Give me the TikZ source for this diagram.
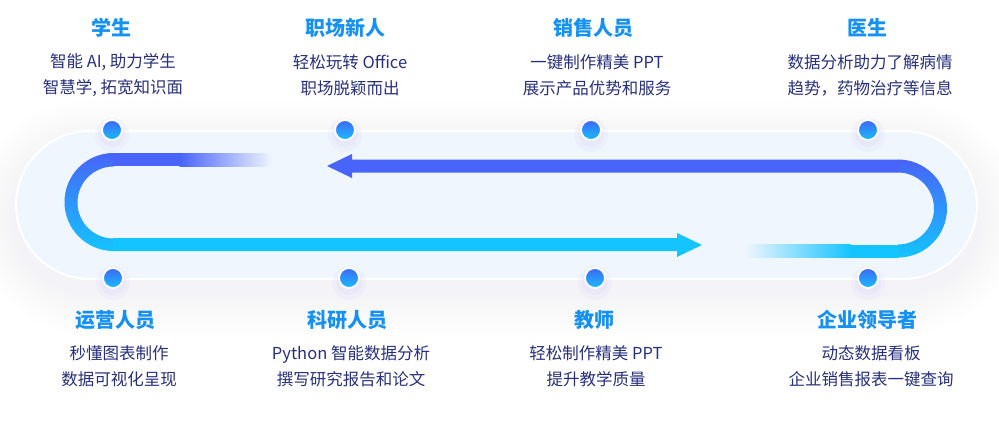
\documentclass[tikz,border=0pt]{standalone}
\usepackage{fontspec}
\setmainfont{Noto Sans CJK SC}
\definecolor{titleblue}{HTML}{1591F3}
\definecolor{navy}{HTML}{28307C}
\definecolor{arrblue}{HTML}{4864FA}
\definecolor{arrcyan}{HTML}{14C4FF}
\definecolor{pillbg}{HTML}{F0F6FE}
\definecolor{glow}{HTML}{DCD6F8}
\definecolor{dotTop}{HTML}{3F68F5}
\definecolor{dotBot}{HTML}{18BEFF}
\tikzset{
  ttl/.style={font=\bfseries\fontsize{20}{24}\selectfont, text=titleblue, inner sep=0pt},
  desc/.style={font=\fontsize{16.5}{26}\selectfont, text=navy, align=center, inner sep=0pt},
  pdot/.style={circle, minimum size=20pt, inner sep=0pt, draw=white, line width=1.8pt, top color=dotTop, bottom color=dotBot},
}
\begin{document}
\begin{tikzpicture}[x=1pt,y=-1pt]
\useasboundingbox (0,0) rectangle (999,426);
\fill[white] (0,0) rectangle (999,426);
% soft glow around the pill
\foreach \e in {44,40,...,4}{
  \fill[glow, opacity=0.014, rounded corners=74pt+\e pt] (16-\e,131-\e+12) rectangle (977+\e,279+\e+12);
}
% pill background
\draw[white, line width=2pt, fill=pillbg, rounded corners=74pt] (16,131) rectangle (977,279);
% left arc (blue -> cyan)
\shade[top color=arrblue, bottom color=arrcyan]
  (113.5,153) arc[start angle=90, end angle=270, radius=49pt] -- (113.5,238.5)
  arc[start angle=270, end angle=90, radius=36pt] -- cycle;
% left top fading line
\fill[arrblue] (113,153) rectangle (180,166);
\shade[left color=arrblue, right color=pillbg] (179.5,153) rectangle (272,166);
% right arc
\shade[top color=arrblue, bottom color=arrcyan]
  (898,159.5) arc[start angle=90, end angle=-90, radius=49pt] -- (898,244.5)
  arc[start angle=-90, end angle=90, radius=36pt] -- cycle;
% right bottom fading line
\fill[arrcyan] (850,244.5) rectangle (898.5,257.5);
\shade[left color=pillbg, right color=arrcyan] (745,244.5) rectangle (850.5,257.5);
% top arrow (leftwards)
\fill[arrblue] (898.5,159.5) -- (352,159.5) -- (352,154) -- (327,166) -- (352,178) -- (352,172.5) -- (898.5,172.5) -- cycle;
% bottom arrow (rightwards)
\fill[arrcyan] (113,238) -- (677,238) -- (677,233) -- (702,245) -- (677,257) -- (677,251) -- (113,251) -- cycle;
% dots
\foreach \n/\x/\y in {d1/112/130,d2/345/130,d3/591/130,d4/868/130,d5/113/278,d6/349/278,d7/595/278,d8/868/278}{
  \fill[glow, opacity=0.18] (\x,\y+5) circle (17pt);
  \fill[glow, opacity=0.25] (\x,\y+4) circle (13pt);
  \node[pdot] (\n) at (\x,\y) {};
}
% top row texts
\node[ttl] (t1) at (111,28) {学生};
\node[desc] (b1) at (113,75) {智能 AI, 助力学生\\智慧学, 拓宽知识面};
\node[ttl] (t2) at (345,28) {职场新人};
\node[desc] (b2) at (350,75) {轻松玩转 Office\\职场脱颖而出};
\node[ttl] (t3) at (593,28) {销售人员};
\node[desc] (b3) at (597,75) {一键制作精美 PPT\\展示产品优势和服务};
\node[ttl] (t4) at (867,28) {医生};
\node[desc] (b4) at (870,75) {数据分析助力了解病情\\趋势，药物治疗等信息};
% bottom row texts
\node[ttl] (t5) at (115,320) {运营人员};
\node[desc] (b5) at (119,366.5) {秒懂图表制作\\数据可视化呈现};
\node[ttl] (t6) at (347,320) {科研人员};
\node[desc] (b6) at (351,366.5) {Python 智能数据分析\\撰写研究报告和论文};
\node[ttl] (t7) at (594,320) {教师};
\node[desc] (b7) at (596,366.5) {轻松制作精美 PPT\\提升教学质量};
\node[ttl] (t8) at (867,320) {企业领导者};
\node[desc] (b8) at (871,366.5) {动态数据看板\\企业销售报表一键查询};
\end{tikzpicture}
\end{document}
